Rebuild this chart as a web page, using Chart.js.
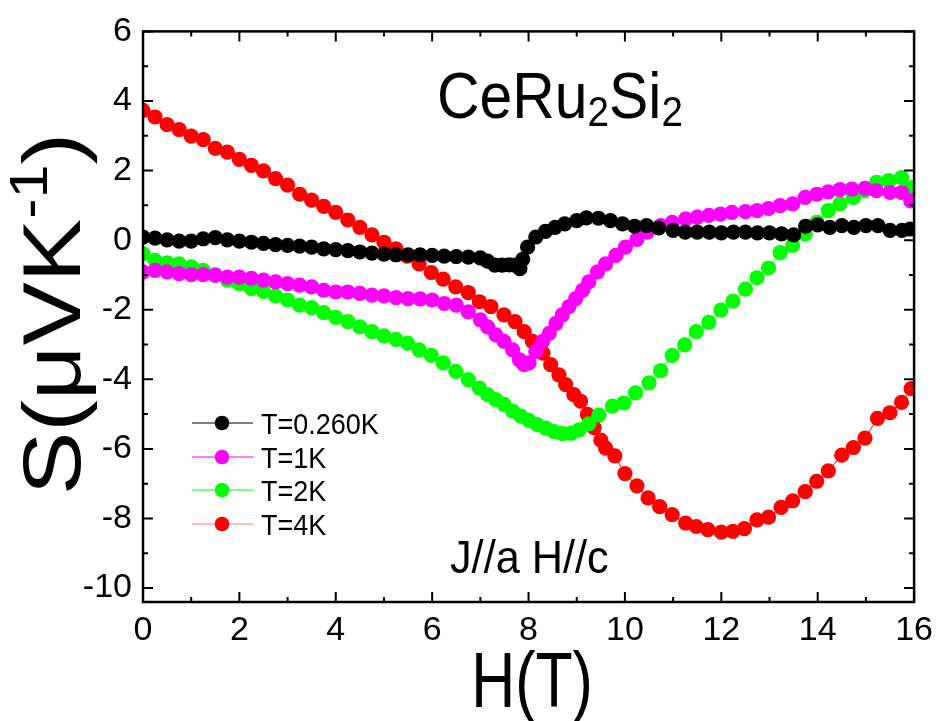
<!DOCTYPE html>
<html>
<head>
    <title>CeRu2Si2 thermopower</title>
    <script src="https://cdn.jsdelivr.net/npm/chart.js"></script>
    <style>
        body { margin: 0; background: #fff; }
        #wrap { width: 941px; height: 721px; }
    </style>
</head>
<body>
<div id="wrap"><canvas id="seebeck-chart" width="941" height="721"></canvas></div>
<script>
    // values: H in tesla, S in µV/K
    const hT026 = [0, 0.25, 0.5, 0.75, 1, 1.25, 1.5, 1.75, 2, 2.25, 2.5, 2.75, 3, 3.25, 3.5, 3.75, 4, 4.25, 4.5, 4.75, 5, 5.25, 5.5, 5.75, 6, 6.25, 6.5, 6.75, 7,
        7.15, 7.3, 7.45, 7.6, 7.72, 7.82, 7.88, 7.98, 8.15, 8.35, 8.55, 8.75, 9, 9.2, 9.45, 9.7, 9.95, 10.2, 10.45, 10.7,
        11, 11.25, 11.5, 11.75, 12, 12.25, 12.5, 12.75, 13, 13.25, 13.5, 13.75, 14, 14.25, 14.5, 14.75, 15, 15.25, 15.5, 15.75, 15.92];
    const sT026 = [0.09, 0.06, 0.01, -0.03, -0.03, 0.04, 0.07, 0.01, -0.03, -0.06, -0.09, -0.13, -0.15, -0.17, -0.2, -0.25, -0.27, -0.3, -0.34, -0.37, -0.4, -0.42, -0.42, -0.42, -0.44, -0.46, -0.47, -0.49, -0.51,
        -0.6, -0.72, -0.72, -0.71, -0.72, -0.82, -0.55, -0.2, 0.09, 0.25, 0.37, 0.47, 0.56, 0.64, 0.63, 0.56, 0.47, 0.4, 0.42, 0.35,
        0.28, 0.23, 0.23, 0.23, 0.21, 0.23, 0.23, 0.21, 0.21, 0.18, 0.15, 0.4, 0.44, 0.37, 0.42, 0.37, 0.42, 0.42, 0.28, 0.28, 0.32];

    const hT1 = [0, 0.25, 0.5, 0.75, 1, 1.25, 1.5, 1.75, 2, 2.25, 2.5, 2.75, 3, 3.25, 3.5, 3.75, 4, 4.25, 4.5, 4.75, 5, 5.25, 5.5, 5.75, 6, 6.25, 6.5, 6.75, 7,
        7.15, 7.32, 7.49, 7.67, 7.81, 7.91, 8.01, 8.15, 8.29, 8.43, 8.57, 8.7, 8.84, 8.98, 9.12, 9.25, 9.43, 9.6, 9.81, 10.01, 10.25, 10.46,
        10.74, 10.98, 11.26, 11.5, 11.74, 11.98, 12.22, 12.5, 12.74, 12.98, 13.22, 13.48, 13.74, 13.98, 14.22, 14.46, 14.71, 14.98, 15.22, 15.5, 15.74, 15.93];
    const sT1 = [-0.91, -0.87, -0.91, -0.96, -0.99, -0.99, -1.01, -1.06, -1.06, -1.1, -1.15, -1.2, -1.25, -1.29, -1.34, -1.44, -1.49, -1.49, -1.53, -1.58, -1.6, -1.65, -1.68, -1.69, -1.72, -1.82, -1.87, -2.06, -2.29,
        -2.49, -2.72, -2.91, -3.15, -3.44, -3.58, -3.53, -3.2, -2.91, -2.68, -2.39, -2.15, -1.91, -1.68, -1.44, -1.2, -0.91, -0.68, -0.44, -0.2, 0.02, 0.23,
        0.42, 0.51, 0.61, 0.66, 0.71, 0.75, 0.8, 0.82, 0.85, 0.91, 0.99, 1.04, 1.23, 1.32, 1.39, 1.45, 1.47, 1.49, 1.42, 1.37, 1.37, 1.13];

    const hT2 = [0, 0.25, 0.5, 0.75, 1, 1.25, 1.5, 1.75, 2, 2.25, 2.5, 2.75, 3, 3.25, 3.5, 3.75, 4, 4.25, 4.5, 4.75, 5, 5.25,
        5.49, 5.73, 5.98, 6.23, 6.49, 6.75, 6.98, 7.15, 7.32, 7.49, 7.67, 7.84, 8.01, 8.18, 8.36, 8.53, 8.7, 8.88, 9.05, 9.25, 9.46, 9.74, 9.98,
        10.22, 10.5, 10.74, 10.98, 11.24, 11.48, 11.74, 11.99, 12.24, 12.5, 12.74, 12.98, 13.22, 13.48, 13.74, 13.98, 14.22, 14.46, 14.74, 14.98, 15.22, 15.47, 15.74, 15.95];
    const sT2 = [-0.39, -0.58, -0.65, -0.68, -0.77, -0.87, -0.99, -1.15, -1.25, -1.39, -1.47, -1.6, -1.72, -1.87, -1.94, -2.08, -2.22, -2.34, -2.49, -2.63, -2.75, -2.85,
        -2.96, -3.15, -3.31, -3.53, -3.77, -4.01, -4.25, -4.44, -4.58, -4.72, -4.91, -5.06, -5.18, -5.3, -5.4, -5.5, -5.56, -5.55, -5.45, -5.28, -5.03, -4.77, -4.68,
        -4.39, -4.1, -3.75, -3.31, -3.01, -2.63, -2.36, -2.01, -1.75, -1.41, -1.08, -0.8, -0.36, -0.15, 0.18, 0.51, 0.85, 1.04, 1.23, 1.42, 1.66, 1.71, 1.8, 1.51];

    const hT4 = [0, 0.25, 0.5, 0.75, 1, 1.25, 1.5, 1.75, 2, 2.25, 2.5, 2.75, 3, 3.25, 3.5, 3.75, 4, 4.25, 4.5, 4.75, 5, 5.25,
        5.48, 5.73, 5.98, 6.23, 6.49, 6.75, 6.98, 7.22, 7.49, 7.72, 7.91, 8.08, 8.3, 8.46, 8.63, 8.77, 8.94, 9.08, 9.22, 9.36, 9.5, 9.6, 9.79,
        10, 10.25, 10.48, 10.72, 10.98, 11.26, 11.48, 11.72, 12, 12.24, 12.48, 12.74, 12.98, 13.24, 13.48, 13.74, 13.98, 14.22, 14.5, 14.74, 14.98, 15.24, 15.5, 15.74, 15.94];
    const sT4 = [3.73, 3.54, 3.32, 3.18, 2.99, 2.89, 2.64, 2.53, 2.32, 2.15, 1.99, 1.77, 1.58, 1.32, 1.15, 0.97, 0.8, 0.58, 0.37, 0.15, -0.06, -0.25,
        -0.46, -0.68, -0.93, -1.12, -1.34, -1.51, -1.77, -1.91, -2.15, -2.34, -2.63, -2.91, -3.25, -3.58, -3.87, -4.15, -4.44, -4.63, -5.01, -5.39, -5.75, -5.98, -6.2,
        -6.71, -7.06, -7.41, -7.66, -7.89, -8.13, -8.23, -8.32, -8.39, -8.37, -8.29, -8.04, -7.96, -7.68, -7.49, -7.23, -6.93, -6.63, -6.18, -5.96, -5.69, -5.12, -4.96, -4.66, -4.27];

    const seriesLabels = ['T=0.260K', 'T=1K', 'T=2K', 'T=4K'];
    const seriesColors = ['#000000', '#ff00ff', '#00ff00', '#ff0000'];
    const legendLineColors = ['#000000', '#ff00ff', '#00ff00', '#ff7070'];
    const xTicks = [0, 2, 4, 6, 8, 10, 12, 14, 16];
    const yTicks = [-10, -8, -6, -4, -2, 0, 2, 4, 6];

    const FONT = "'Liberation Sans', Arial, sans-serif";
    const SQUEEZE = 0.9;   // the original lettering is a bit condensed

    function toPoints(xs, ys) {
        return xs.map((x, i) => ({ x: x, y: ys[i] }));
    }

    const allH = [hT026, hT1, hT2, hT4];
    const allS = [sT026, sT1, sT2, sT4];

    const datasets = seriesLabels.map((label, i) => ({
        label: label,
        data: toPoints(allH[i], allS[i]),
        showLine: true,
        borderColor: seriesColors[i],
        backgroundColor: seriesColors[i],
        borderWidth: 1,
        pointRadius: 7.6,
        pointBorderWidth: 0,
        pointHoverRadius: 7.6
    }));

    // draw a run of text pieces (main text, sub/superscripts) along one baseline
    function richText(ctx, pieces, x, y, align, sx, sy) {
        let w = 0;
        pieces.forEach(p => {
            ctx.font = p.size + 'px ' + FONT;
            w += ctx.measureText(p.t).width;
        });
        let cx = align === 'center' ? -w / 2 : 0;
        ctx.save();
        ctx.translate(x, y);
        ctx.scale(sx, sy);
        ctx.textBaseline = 'alphabetic';
        ctx.textAlign = 'left';
        ctx.fillStyle = '#000';
        pieces.forEach(p => {
            ctx.font = p.size + 'px ' + FONT;
            ctx.fillText(p.t, cx, p.dy || 0);
            cx += ctx.measureText(p.t).width;
        });
        ctx.restore();
    }

    const decorPlugin = {
        id: 'decor',
        afterDraw(chart) {
            const ctx = chart.ctx;
            const area = chart.chartArea;
            const xs = chart.scales.x;
            const ys = chart.scales.y;

            // frame with inward ticks on all four sides
            ctx.save();
            ctx.strokeStyle = '#000';
            ctx.lineWidth = 2.5;
            ctx.strokeRect(area.left, area.top, area.right - area.left, area.bottom - area.top);
            ctx.lineWidth = 2;
            ctx.beginPath();
            for (let v = 0; v <= 16; v++) {
                const len = v % 2 === 0 ? 10 : 5;
                const px = xs.getPixelForValue(v);
                ctx.moveTo(px, area.bottom); ctx.lineTo(px, area.bottom - len);
                ctx.moveTo(px, area.top); ctx.lineTo(px, area.top + len);
            }
            for (let v = -10; v <= 6; v++) {
                const len = v % 2 === 0 ? 10 : 5;
                const py = ys.getPixelForValue(v);
                ctx.moveTo(area.left, py); ctx.lineTo(area.left + len, py);
                ctx.moveTo(area.right, py); ctx.lineTo(area.right - len, py);
            }
            ctx.stroke();
            ctx.restore();

            // legend inside the plot
            const rows = [423, 457, 490, 524];
            rows.forEach((ry, i) => {
                ctx.save();
                ctx.strokeStyle = legendLineColors[i];
                ctx.lineWidth = 1;
                ctx.beginPath();
                ctx.moveTo(192, ry); ctx.lineTo(253, ry);
                ctx.stroke();
                ctx.fillStyle = seriesColors[i];
                ctx.beginPath();
                ctx.arc(222, ry, 7.3, 0, Math.PI * 2);
                ctx.fill();
                ctx.restore();
                richText(ctx, [{ t: seriesLabels[i], size: 30 }], 261, ry + 11, 'left', SQUEEZE, 1);
            });

            // compound name and geometry
            richText(ctx, [
                { t: 'CeRu', size: 64 }, { t: '2', size: 42, dy: 8 },
                { t: 'Si', size: 64 }, { t: '2', size: 42, dy: 8 }
            ], 437, 118, 'left', 0.92, 1);
            richText(ctx, [{ t: 'J//a H//c', size: 46 }], 450, 573, 'left', 0.94, 1);

            // axis titles
            richText(ctx, [{ t: 'H(T)', size: 78 }], 532, 707, 'center', 0.78, 1);
            ctx.save();
            ctx.translate(80, 314);
            ctx.rotate(-Math.PI / 2);
            richText(ctx, [
                { t: 'S(\u03bcVK', size: 84 }, { t: '-1', size: 54, dy: -34 }, { t: ')', size: 84 }
            ], 0, 0, 'center', 1.13, 0.98);
            ctx.restore();
        }
    };

    new Chart(document.getElementById('seebeck-chart'), {
        type: 'scatter',
        data: { datasets: datasets },
        options: {
            responsive: false,
            devicePixelRatio: 1,
            animation: false,
            layout: { padding: { left: 0, top: 28, right: 25, bottom: 0 } },
            plugins: {
                legend: { display: false },
                tooltip: { enabled: false }
            },
            scales: {
                x: {
                    type: 'linear',
                    min: 0,
                    max: 16,
                    afterBuildTicks: scale => { scale.ticks = xTicks.map(v => ({ value: v })); },
                    afterFit: scale => { scale.height = 119; },
                    grid: { display: false, drawTicks: false },
                    border: { display: false },
                    ticks: {
                        color: '#000',
                        padding: 8,
                        maxRotation: 0,
                        font: { family: FONT, size: 34 }
                    }
                },
                y: {
                    type: 'linear',
                    min: -10.4,
                    max: 6,
                    afterBuildTicks: scale => { scale.ticks = yTicks.map(v => ({ value: v })); },
                    afterFit: scale => { scale.width = 143; },
                    grid: { display: false, drawTicks: false },
                    border: { display: false },
                    ticks: {
                        color: '#000',
                        padding: 11,
                        font: { family: FONT, size: 34 }
                    }
                }
            }
        },
        plugins: [decorPlugin]
    });
</script>
</body>
</html>
